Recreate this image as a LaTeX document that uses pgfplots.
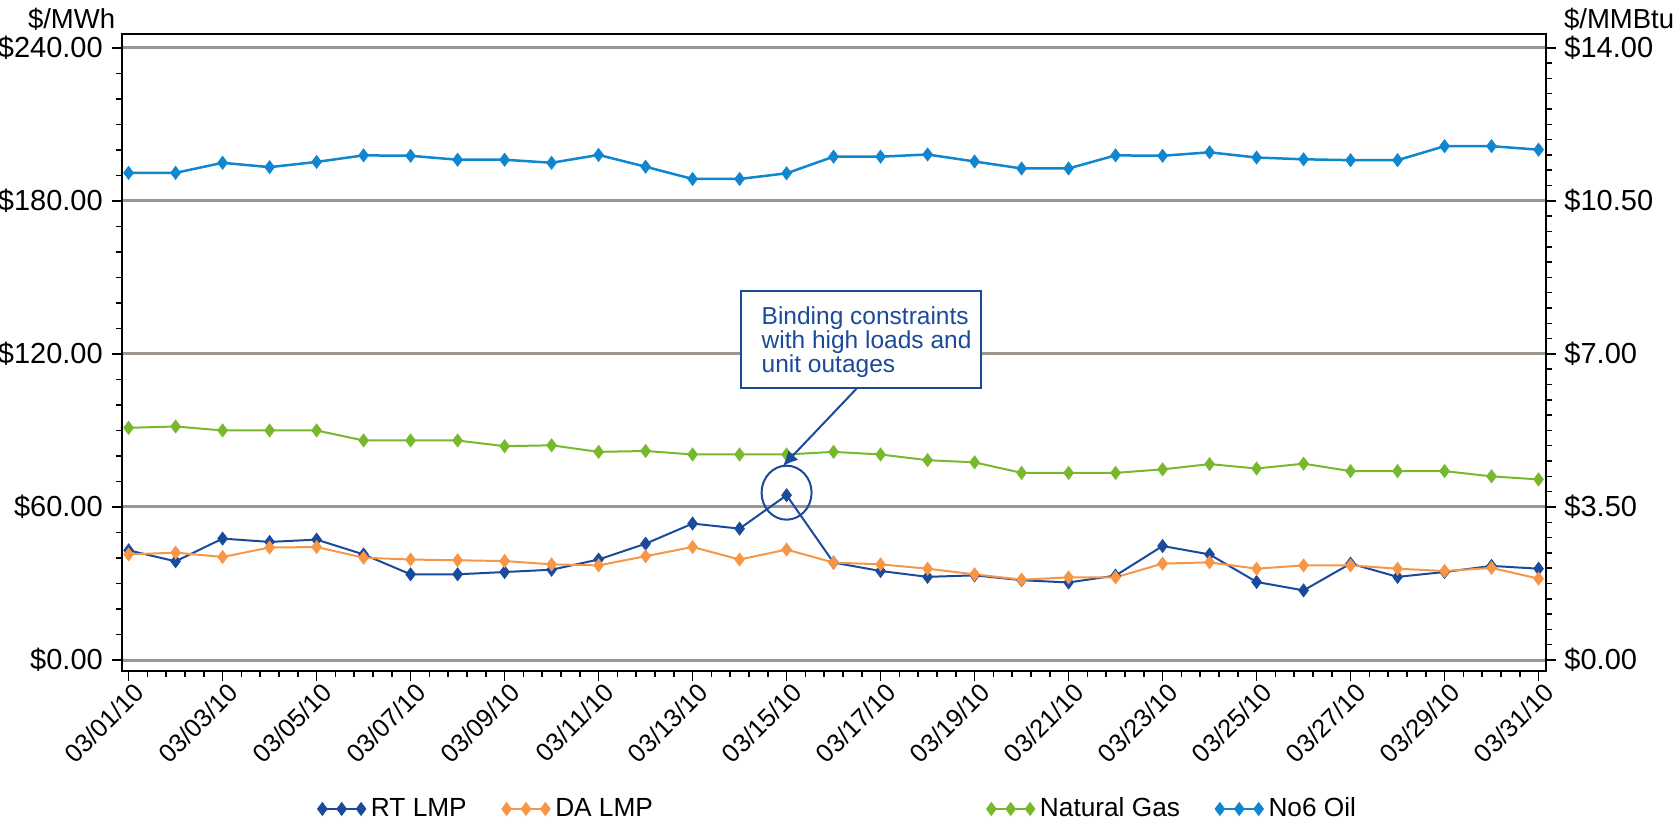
\documentclass[border=0pt]{standalone}
\usepackage{fontspec}
\setmainfont{Liberation Sans}
\usepackage{pgfplots}
\usepackage{pgfplotstable}
\pgfplotsset{compat=1.18}
\usetikzlibrary{arrows.meta}

\definecolor{rtblue}{HTML}{1A4A9C}
\definecolor{daorange}{HTML}{F79646}
\definecolor{gasgreen}{HTML}{77B82C}
\definecolor{oilblue}{HTML}{0F86D0}
\definecolor{gridgray}{HTML}{9E958C}
\definecolor{noteblue}{HTML}{1B4A9A}

% Daily prices, March 2010: LMPs in $/MWh, fuels in $/MMBtu
\pgfplotstableread{
day rt   da   gas  oil
1   43.0 41.4 5.31 11.14
2   38.7 42.1 5.34 11.14
3   47.6 40.4 5.25 11.37
4   46.3 44.1 5.25 11.27
5   47.2 44.3 5.25 11.39
6   41.4 40.1 5.02 11.54
7   33.6 39.4 5.02 11.53
8   33.6 39.1 5.02 11.44
9   34.5 38.8 4.89 11.44
10  35.4 37.5 4.91 11.37
11  39.4 37.1 4.76 11.55
12  45.6 40.7 4.78 11.28
13  53.5 44.3 4.70 11.00
14  51.5 39.4 4.70 11.00
15  64.6 43.3 4.70 11.13
16  38.2 38.2 4.76 11.51
17  34.9 37.5 4.70 11.51
18  32.6 35.8 4.57 11.56
19  33.2 33.6 4.52 11.40
20  31.3 31.5 4.28 11.24
21  30.4 32.4 4.28 11.24
22  33.1 32.4 4.28 11.54
23  44.7 37.8 4.36 11.53
24  41.4 38.3 4.48 11.61
25  30.6 35.8 4.38 11.49
26  27.3 37.1 4.49 11.45
27  37.8 37.1 4.32 11.43
28  32.6 35.8 4.32 11.43
29  34.5 34.9 4.32 11.75
30  36.9 36.1 4.20 11.75
31  35.8 31.9 4.13 11.67
}\prices

\pgfplotsset{
  base/.style={
    scale only axis, width=569.6pt, height=254.8pt,
    at={(0pt,0pt)}, anchor=south west,
    xmin=0.851, xmax=31.15,
    axis line style={black, line width=0.8pt},
    tick align=outside,
    major tick length=4pt, minor tick length=2.4pt,
    tick style={black, line width=0.6pt},
    /pgf/number format/assume math mode=true,
    yticklabel style={font=\fontsize{11.6}{14}\selectfont},
    yticklabel={\$\pgfmathprintnumber[fixed,fixed zerofill,precision=2]{\tick}},
    legend columns=-1,
    legend cell align=left,
    legend image code/.code={%
      \draw[#1, mark repeat=1, mark phase=1]
        plot coordinates {(0pt,0pt) (7.75pt,0pt) (15.5pt,0pt)};},
  },
  series/.style={mark=diamond*, line width=0.8pt, color=#1,
    mark options={solid, fill=#1, draw=#1, line width=0.3pt}, mark size=2.6pt},
  legendbox/.style={draw=none, fill=none, inner sep=0pt, anchor=west,
    font=\fontsize{10.5}{12}\selectfont,
    /tikz/every even column/.append style={column sep=12pt}},
}

\begin{document}
\begin{tikzpicture}
\useasboundingbox (-48.64pt,-61.2pt) rectangle (623.36pt,268.4pt);

\begin{axis}[base,
  ymin=-4.3, ymax=245.4,
  ytick={0,60,120,180,240}, minor y tick num=5, ytick pos=left,
  ymajorgrids, grid style={gridgray, line width=1.2pt},
  xtick={1,3,...,31}, minor x tick num=4, xtick pos=bottom,
  xticklabels={03/01/10,03/03/10,03/05/10,03/07/10,03/09/10,03/11/10,03/13/10,03/15/10,
    03/17/10,03/19/10,03/21/10,03/23/10,03/25/10,03/27/10,03/29/10,03/31/10},
  xticklabel style={rotate=45, anchor=north east, inner sep=1pt, xshift=2pt,
    font=\fontsize{10.2}{12}\selectfont},
  legend style={legendbox, at={(0.1372,-0.2166)}},
]
\addplot[series=rtblue] table[x=day, y=rt] {\prices};
\addlegendentry{RT LMP}
\addplot[series=daorange] table[x=day, y=da] {\prices};
\addlegendentry{DA LMP}
\coordinate (boxSW) at (axis cs:14.03,106.6);
\coordinate (boxNE) at (axis cs:19.14,144.6);
\coordinate (txt) at (axis cs:14.46,138.5);
\coordinate (arrS) at (axis cs:16.5,106.6);
\coordinate (arrE) at (axis cs:14.92,76.0);
\coordinate (ring) at (axis cs:15,65.6);
\end{axis}

\begin{axis}[base,
  hide x axis, axis y line*=right,
  ymin=-0.2508, ymax=14.315,
  ytick={0,3.5,7,10.5,14}, minor y tick num=9,
  legend style={legendbox, at={(0.607,-0.2166)}},
]
\addplot[series=gasgreen] table[x=day, y=gas] {\prices};
\addlegendentry{Natural Gas}
\addplot[series=oilblue, line width=1pt] table[x=day, y=oil] {\prices};
\addlegendentry{No6 Oil}
\end{axis}

% unit labels above the two value axes
\node[font=\fontsize{11}{13}\selectfont, anchor=east, inner sep=0pt] at (-2.4pt,260.8pt) {\$/MWh};
\node[font=\fontsize{11}{13}\selectfont, anchor=west, inner sep=0pt] at (576.8pt,260.8pt) {\$/MMBtu};

% callout on the 03/15 price spike
\draw[noteblue, line width=0.8pt, fill=white] (boxSW) rectangle (boxNE);
\node[anchor=north west, inner sep=0pt, align=left, text=noteblue,
  font=\fontsize{9.8}{9.6}\selectfont] at (txt)
  {Binding constraints\\with high loads and\\unit outages};
\draw[noteblue, line width=0.8pt, -{Latex[length=6pt,width=5.5pt]}] (arrS) -- (arrE);
\draw[noteblue, line width=0.8pt] (ring) ellipse [x radius=10pt, y radius=10.8pt];
\end{tikzpicture}
\end{document}
